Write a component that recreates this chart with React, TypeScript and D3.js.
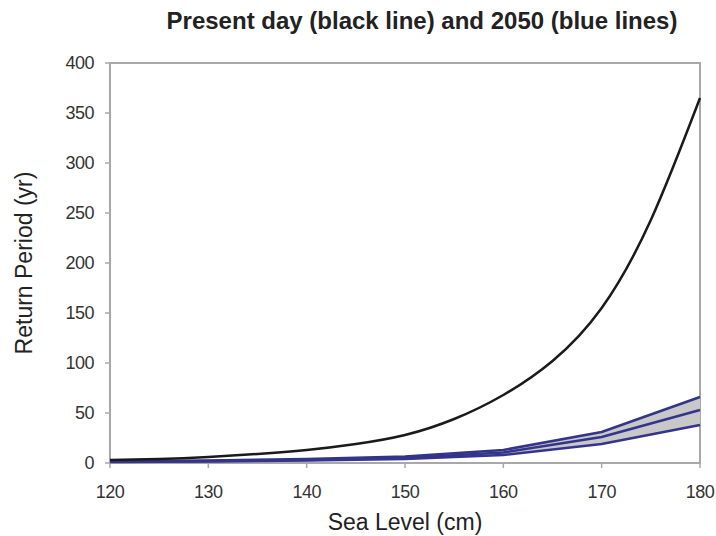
import React from "react";
import * as d3 from "d3";

// sea level (cm) and return periods (yr)
const presentX = [120, 125, 130, 135, 140, 145, 150, 155, 160, 165, 170, 175, 180];
const presentY = [3, 4, 6, 9, 13, 19, 28, 44, 68, 102, 155, 243, 365];

const futureX = [120, 130, 140, 150, 160, 170, 180];
const futureUpper = [1.5, 2.5, 4, 6.5, 13, 31, 66];
const futureMid = [1.2, 2, 3, 5, 10.5, 26, 53];
const futureLower = [1, 1.5, 2.5, 4, 8, 19, 38];

const xTicks = [120, 130, 140, 150, 160, 170, 180];
const yTicks = [0, 50, 100, 150, 200, 250, 300, 350, 400];

const W = 716;
const H = 536;
const m = { left: 110, right: 16, top: 63, bottom: 73 };
const FONT = "'Liberation Sans', Arial, sans-serif";
const BLUE = "#34348c";
const AXIS = "#a8a8a8";

export default function App() {
  const x = d3.scaleLinear().domain([120, 180]).range([m.left, W - m.right]);
  const y = d3.scaleLinear().domain([0, 400]).range([H - m.bottom, m.top]);

  const present = presentX.map((v, i) => [v, presentY[i]] as [number, number]);
  const blackLine = d3
    .line<[number, number]>()
    .x((d) => x(d[0]))
    .y((d) => y(d[1]))
    .curve(d3.curveNatural);

  const blueLine = (vals: number[]) =>
    d3
      .line<number>()
      .x((_, i) => x(futureX[i]))
      .y((d) => y(d))(vals) || "";

  const band = d3
    .area<number>()
    .x((_, i) => x(futureX[i]))
    .y0((_, i) => y(futureLower[i]))
    .y1((_, i) => y(futureUpper[i]))(futureX) || "";

  const x0 = m.left;
  const x1 = W - m.right;
  const y0 = H - m.bottom;
  const y1 = m.top;

  return (
    <svg
      width={W}
      height={H}
      style={{ position: "absolute", left: 0, top: 0, background: "#fff" }}
      fontFamily={FONT}
    >
      <text x={422} y={29} textAnchor="middle" fontSize={24} fontWeight="bold" fill="#222">
        Present day (black line) and 2050 (blue lines)
      </text>

      {/* frame */}
      <rect x={x0} y={y1} width={x1 - x0} height={y0 - y1} fill="none" stroke={AXIS} strokeWidth={2} />

      {yTicks.map((t) => (
        <g key={"y" + t}>
          <line x1={x0 - 5} x2={x0} y1={y(t)} y2={y(t)} stroke={AXIS} strokeWidth={1.5} />
          <text x={x0 - 16} y={y(t)} dy="0.36em" textAnchor="end" fontSize={18} letterSpacing={-0.5} fill="#333">
            {t}
          </text>
        </g>
      ))}
      {xTicks.map((t) => (
        <g key={"x" + t}>
          <line x1={x(t)} x2={x(t)} y1={y0} y2={y0 + 5} stroke={AXIS} strokeWidth={1.5} />
          <text x={x(t)} y={y0 + 35} textAnchor="middle" fontSize={18} letterSpacing={-0.5} fill="#333">
            {t}
          </text>
        </g>
      ))}

      <text x={(x0 + x1) / 2} y={H - 6} textAnchor="middle" fontSize={23} fill="#222">
        Sea Level (cm)
      </text>
      <text
        transform={`translate(32, ${(y0 + y1) / 2}) rotate(-90)`}
        textAnchor="middle"
        fontSize={23}
        fill="#222"
      >
        Return Period (yr)
      </text>

      <path d={band} fill="#c8c8c8" />
      {[futureUpper, futureMid, futureLower].map((s, i) => (
        <path key={i} d={blueLine(s)} fill="none" stroke={BLUE} strokeWidth={2.5} strokeLinejoin="round" />
      ))}
      <path d={blackLine(present) || ""} fill="none" stroke="#1a1a1a" strokeWidth={2.5} />
    </svg>
  );
}
